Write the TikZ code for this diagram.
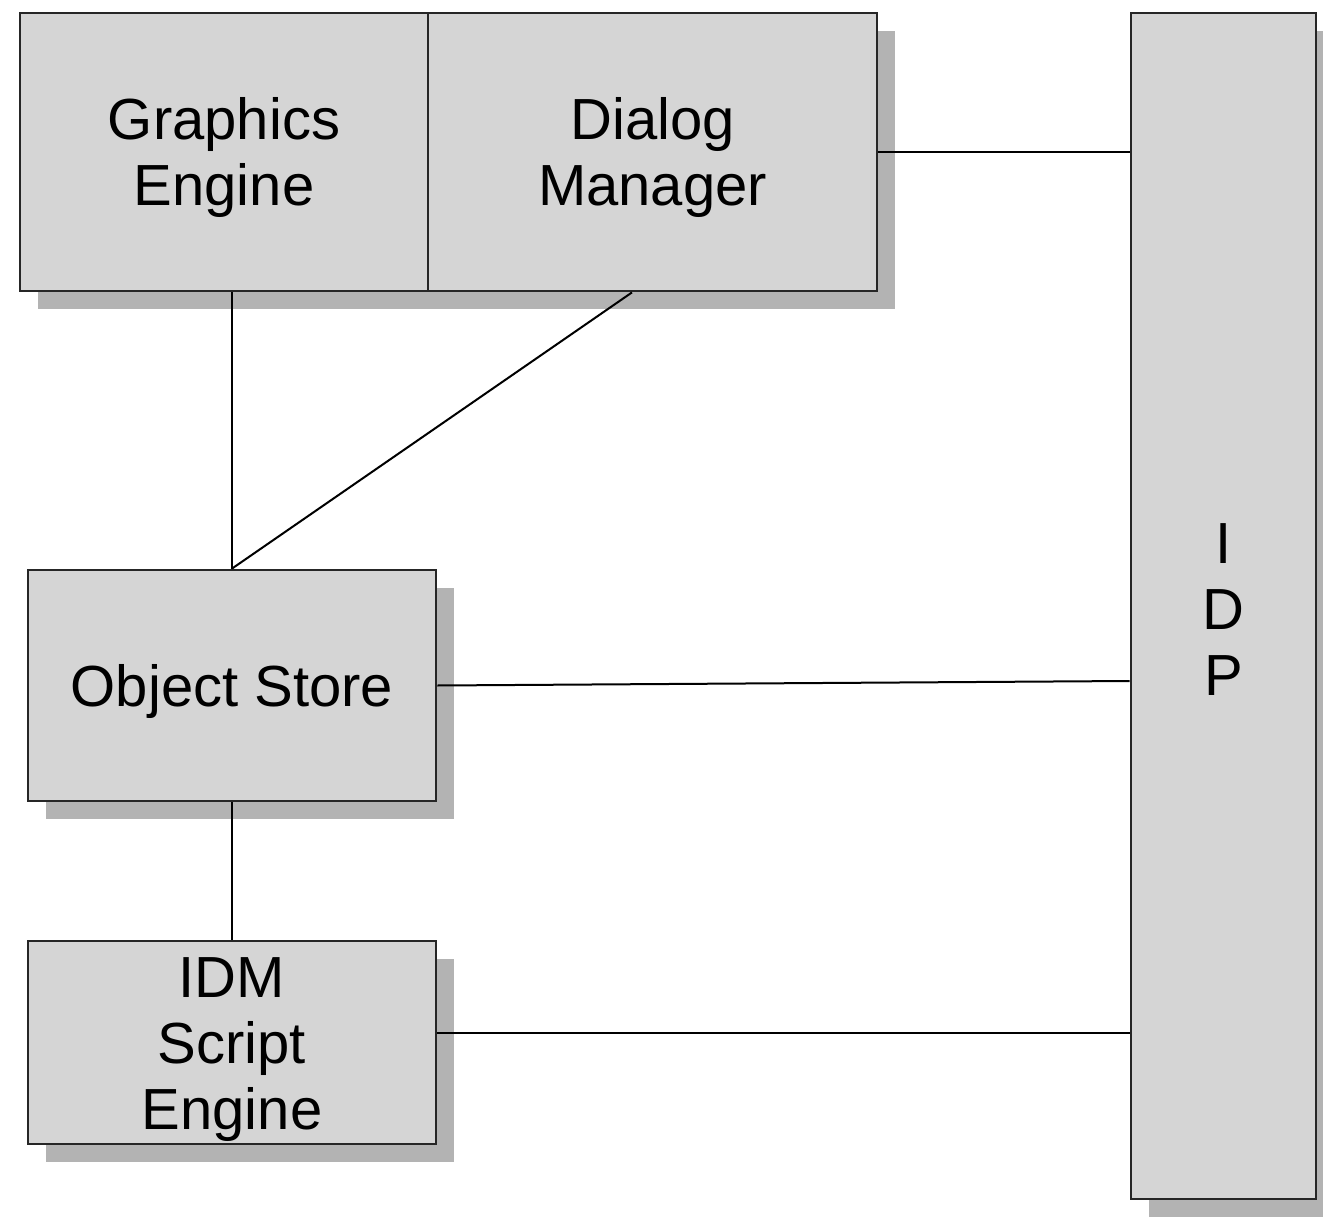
\documentclass[tikz,border=0pt]{standalone}
\usepackage{fontspec}
\setmainfont{Liberation Sans}
\usetikzlibrary{shadows,calc}
\definecolor{boxfill}{HTML}{D5D5D5}
\definecolor{shadowgray}{HTML}{B3B3B3}
\definecolor{edgegray}{HTML}{262626}
\newcommand{\topstrut}{\rule{0pt}{54pt}}
\begin{document}
\begin{tikzpicture}[x=1pt,y=-1pt,
  blk/.style={draw=edgegray, line width=2.8pt, fill=boxfill, inner sep=0pt, align=center,
    font=\fontsize{58}{66}\selectfont,
    drop shadow={shadow xshift=18pt, shadow yshift=-18pt, fill=shadowgray, opacity=1}},
  conn/.style={draw=black, line width=2pt}]
\useasboundingbox (0,0) rectangle (1323,1217);
\node[blk, minimum width=408pt, minimum height=278pt] (ge) at (224,152) {\topstrut Graphics\\Engine};
\node[blk, minimum width=449pt, minimum height=278pt] (dm) at (652.5,152) {\topstrut Dialog\\Manager};
\node[blk, minimum width=185pt, minimum height=1186pt] (idp) at (1223.5,606) {\rule{0pt}{46pt}I\\D\\P};
\node[blk, minimum width=408pt, minimum height=231pt] (os) at (232,685.5) {\topstrut Object Store};
\node[blk, minimum width=408pt, minimum height=203pt] (idm) at (232,1042.5) {\topstrut IDM\\Script\\Engine};
\draw[conn] (os.north) -- (os.north |- ge.south);
\draw[conn] ([xshift=-20.5pt]dm.south) -- (os.north);
\draw[conn] (dm.east) -- (dm.east -| idp.west);
\draw[conn] (os.east) -- ([yshift=4.5pt]os.east -| idp.west);
\draw[conn] (os.south) -- (idm.north);
\draw[conn] ([yshift=9.5pt]idm.east) -- ([yshift=9.5pt]idm.east -| idp.west);
\end{tikzpicture}
\end{document}
